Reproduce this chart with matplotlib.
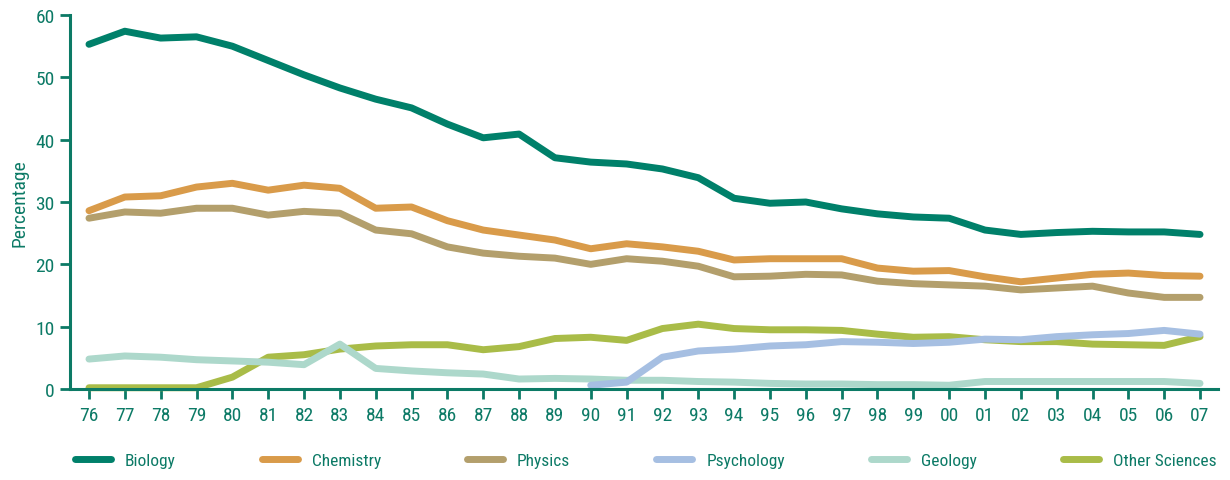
import matplotlib
matplotlib.use('Agg')

import numpy as np
import matplotlib.pyplot as plt
from matplotlib import font_manager

# years 1976 - 2007
years = ["76", "77", "78", "79", "80", "81", "82", "83", "84", "85", "86", "87",
         "88", "89", "90", "91", "92", "93", "94", "95", "96", "97", "98", "99",
         "00", "01", "02", "03", "04", "05", "06", "07"]

biology = [55.3, 57.4, 56.3, 56.5, 55.0, 52.7, 50.4, 48.3, 46.5, 45.1, 42.5, 40.3,
           40.9, 37.1, 36.4, 36.1, 35.3, 33.9, 30.6, 29.8, 30.0, 28.9, 28.1, 27.6,
           27.4, 25.5, 24.8, 25.1, 25.3, 25.2, 25.2, 24.8]
chemistry = [28.6, 30.8, 31.0, 32.4, 33.0, 31.9, 32.7, 32.2, 29.0, 29.2, 27.0, 25.5,
             24.7, 23.9, 22.5, 23.3, 22.8, 22.1, 20.7, 20.9, 20.9, 20.9, 19.4, 18.9,
             19.0, 18.0, 17.2, 17.8, 18.4, 18.6, 18.2, 18.1]
physics = [27.4, 28.4, 28.2, 29.0, 29.0, 27.9, 28.5, 28.2, 25.5, 24.9, 22.8, 21.8,
           21.3, 21.0, 20.0, 20.9, 20.5, 19.7, 18.0, 18.1, 18.4, 18.3, 17.3, 16.9,
           16.7, 16.5, 15.9, 16.2, 16.5, 15.4, 14.7, 14.7]
# psychology only reported from 1990
psychology = [None] * 14 + [0.6, 1.1, 5.1, 6.1, 6.4, 6.9, 7.1, 7.6, 7.5, 7.3,
                            7.5, 8.0, 7.9, 8.4, 8.7, 8.9, 9.4, 8.8]
geology = [4.8, 5.3, 5.1, 4.7, 4.5, 4.3, 3.9, 7.2, 3.3, 2.9, 2.6, 2.4,
           1.6, 1.7, 1.6, 1.4, 1.4, 1.2, 1.1, 0.9, 0.8, 0.8, 0.7, 0.7,
           0.6, 1.2, 1.2, 1.2, 1.2, 1.2, 1.2, 0.9]
other = [0.2, 0.2, 0.2, 0.2, 1.9, 5.1, 5.5, 6.4, 6.9, 7.1, 7.1, 6.3,
         6.8, 8.1, 8.3, 7.8, 9.7, 10.4, 9.7, 9.5, 9.5, 9.4, 8.8, 8.3,
         8.4, 7.9, 7.6, 7.6, 7.2, 7.1, 7.0, 8.4]

series = [("Biology", biology, "#00806a"),
          ("Chemistry", chemistry, "#d99b4a"),
          ("Physics", physics, "#b39f6c"),
          ("Psychology", psychology, "#a6bfe2"),
          ("Geology", geology, "#add8cb"),
          ("Other Sciences", other, "#a9bc48")]

teal = "#0c7a66"

# look for a condensed sans face (the original uses a condensed font)
cands = []
for f in font_manager.fontManager.ttflist:
    low = f.fname.lower()
    if ("condensed" in low or "narrow" in low) and "semi" not in low \
            and "extra" not in low and "ultra" not in low \
            and "bold" not in low and "italic" not in low and "light" not in low \
            and "medium" not in low and "black" not in low and "thin" not in low:
        cands.append(f)
pref = ["Noto Sans", "Open Sans", "Roboto", "Liberation Sans", "Lato", "Inter", "DejaVu Sans"]
cands.sort(key=lambda f: next((i for i, p in enumerate(pref) if p in f.name), 99))
if cands:
    fprop = font_manager.FontProperties(fname=cands[0].fname)
    plt.rcParams['font.family'] = fprop.get_name()
    plt.rcParams['font.stretch'] = cands[0].stretch
    fs = 14
else:
    plt.rcParams['font.family'] = ['Roboto', 'DejaVu Sans']
    fs = 12

fig = plt.figure(figsize=(12.3, 4.81), dpi=100)
ax = fig.add_axes([0.0569, 0.1892, 0.9333, 0.7775])

x = np.arange(len(years))
lines = []
# draw in reverse so biology sits on top
for name, vals, col in reversed(series):
    v = np.array([np.nan if a is None else a for a in vals], dtype=float)
    ln, = ax.plot(x, v, color=col, lw=5, solid_capstyle='round',
                  solid_joinstyle='round', clip_on=False, label=name)
    lines.append(ln)
lines = lines[::-1]

ax.set_xlim(-0.53, 31.5)
ax.set_ylim(0, 60)
ax.set_yticks(range(0, 61, 10))
ax.set_xticks(x)
ax.set_xticklabels(years)

for s in ["top", "right"]:
    ax.spines[s].set_visible(False)
for s in ["left", "bottom"]:
    ax.spines[s].set_color(teal)
    ax.spines[s].set_linewidth(2.2)

ax.tick_params(axis='both', colors=teal, labelsize=fs, width=2, length=7,
               direction='out')
ax.tick_params(axis='x', pad=5)
ax.tick_params(axis='y', pad=4)
ax.set_ylabel("Percentage", color=teal, fontsize=fs)
ax.yaxis.set_label_coords(-0.036, 0.5)

lfs = fs - 1.5
fig.legend(handles=lines, labels=[s[0] for s in series], ncol=6,
           loc='center', bbox_to_anchor=(0.055, 0.005, 0.94, 0.07),
           mode='expand', frameon=False, fontsize=lfs, handlelength=36 / (lfs * 100 / 72),
           handletextpad=14 / (lfs * 100 / 72), labelcolor=teal, borderaxespad=0)

fig.savefig("out.png", dpi=100)
